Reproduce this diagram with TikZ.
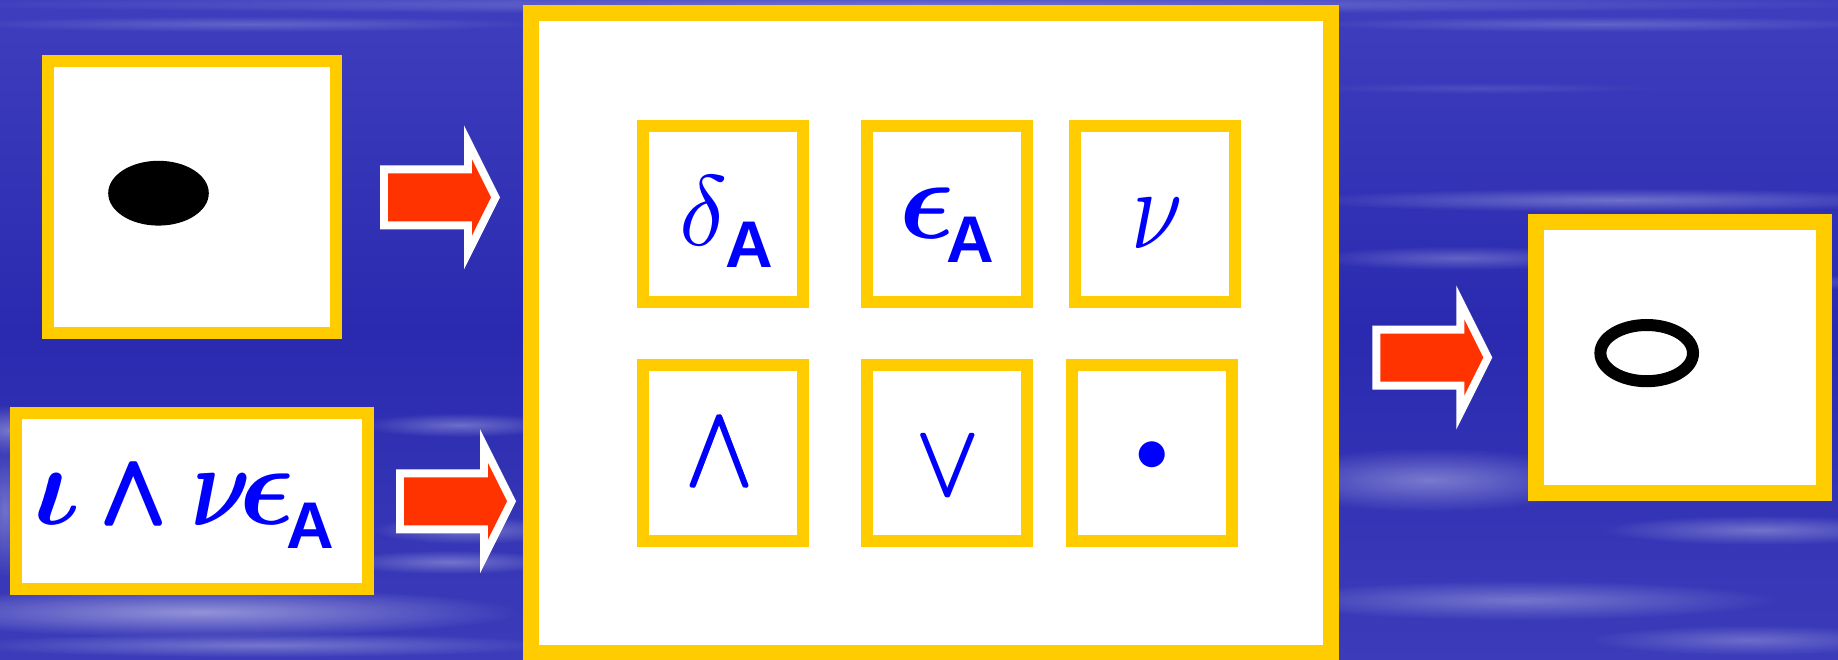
\documentclass[tikz,border=0pt]{standalone}
\usepackage{amsmath}
\usepackage{fontspec}
\newfontfamily\sansA{Liberation Sans}
\usetikzlibrary{shapes.geometric,fadings}
\definecolor{ybord}{HTML}{FFCC00}
\definecolor{arrred}{HTML}{FF3300}
\definecolor{txtblue}{HTML}{0000FF}
\definecolor{bgtop}{HTML}{3E3EBE}
\definecolor{bgmid}{HTML}{2A2AB0}
\definecolor{bgbot}{HTML}{3C3CBA}
\tikzfading[name=fuzzy, inner color=transparent!0, outer color=transparent!100]
\newcommand{\Gk}[2]{\scalebox{#1}{$#2$}}
\newcommand{\GkXY}[3]{\scalebox{#1}[#2]{$#3$}}
\newcommand{\FatSym}[2]{\rlap{$#2$}\kern#1\rlap{$#2$}\kern#1$#2$}
\newcommand{\SubA}{{\sansA\bfseries\fontsize{66}{70}\selectfont A}}
\tikzset{
  box/.style={draw=ybord, fill=white, inner sep=0pt},
  glyph/.style={text=txtblue, inner sep=0pt, anchor=base},
  streak/.style={fill=white, path fading=fuzzy},
  blockarrow/.pic={
    \fill[white] (0,-32) -- (84,-32) -- (84,-72) -- (120,0) -- (84,72) -- (84,32) -- (0,32) -- cycle;
    \fill[arrred] (8,-24) -- (92,-24) -- (92,-38.1) -- (111,0) -- (92,38.1) -- (92,24) -- (8,24) -- cycle;
  }
}
\begin{document}
\begin{tikzpicture}[x=1pt,y=-1pt]
\useasboundingbox (0,0) rectangle (1838,660);
% background
\shade[top color=bgtop, bottom color=bgbot, middle color=bgmid] (0,0) rectangle (1838,660);
\fill[streak, opacity=0.25] (920,4) ellipse [x radius=1000, y radius=10];
\fill[streak, opacity=0.2] (250,24) ellipse [x radius=300, y radius=8];
\fill[streak, opacity=0.2] (1600,24) ellipse [x radius=300, y radius=8];
\fill[streak, opacity=0.1] (1480,88) ellipse [x radius=180, y radius=6];
\fill[streak, opacity=0.3] (1620,200) ellipse [x radius=320, y radius=12];
\fill[streak, opacity=0.25] (1460,258) ellipse [x radius=150, y radius=12];
\fill[streak, opacity=0.2] (1780,282) ellipse [x radius=120, y radius=8];
\fill[streak, opacity=0.35] (1430,480) ellipse [x radius=170, y radius=32];
\fill[streak, opacity=0.3] (1760,530) ellipse [x radius=160, y radius=15];
\fill[streak, opacity=0.3] (1520,600) ellipse [x radius=260, y radius=20];
\fill[streak, opacity=0.25] (1750,640) ellipse [x radius=160, y radius=15];
\fill[streak, opacity=0.3] (460,425) ellipse [x radius=100, y radius=12];
\fill[streak, opacity=0.35] (10,430) ellipse [x radius=50, y radius=25];
\fill[streak, opacity=0.3] (5,510) ellipse [x radius=30, y radius=70];
\fill[streak, opacity=0.3] (470,530) ellipse [x radius=100, y radius=14];
\fill[streak, opacity=0.3] (450,562) ellipse [x radius=110, y radius=12];
\fill[streak, opacity=0.45] (200,612) ellipse [x radius=320, y radius=25];
\fill[streak, opacity=0.3] (260,645) ellipse [x radius=300, y radius=12];

% boxes
\node[box, line width=12pt, minimum width=288pt, minimum height=271.5pt] (in1) at (192,197.25) {};
\node[box, line width=12pt, minimum width=351.3pt, minimum height=175.6pt] (in2) at (191.95,501.2) {};
\node[box, line width=16pt, minimum width=800pt, minimum height=639pt] (core) at (930.6,333) {};
\node[box, line width=12pt, minimum width=160pt, minimum height=176pt] (s11) at (723.2,213.6) {};
\node[box, line width=12pt, minimum width=160pt, minimum height=176pt] (s12) at (947,213.6) {};
\node[box, line width=12pt, minimum width=160pt, minimum height=176pt] (s13) at (1155.2,213.6) {};
\node[box, line width=12pt, minimum width=160pt, minimum height=176pt] (s21) at (723.2,453.3) {};
\node[box, line width=12pt, minimum width=160pt, minimum height=176pt] (s22) at (947,453.3) {};
\node[box, line width=12pt, minimum width=160pt, minimum height=176pt] (s23) at (1152,453.3) {};
\node[box, line width=16pt, minimum width=288pt, minimum height=271.6pt] (out) at (1680.3,357.5) {};

% ellipses
\node[ellipse, fill=black, inner sep=0pt, minimum width=100.6pt, minimum height=64.8pt] (blob) at (158.5,193.2) {};
\node[ellipse, draw=black, line width=12pt, fill=white, inner sep=0pt, minimum width=92.6pt, minimum height=56.2pt] (ring) at (1646.7,353.1) {};

% arrows
\coordinate (a1) at (380,197.4);
\coordinate (a2) at (396,501.25);
\coordinate (a3) at (1372.3,357.5);
\pic at (a1) {blockarrow};
\pic at (a2) {blockarrow};
\pic at (a3) {blockarrow};

% texts in core
\node[glyph] (d1) at (703.3,245.8) {\Gk{10}{\delta}};
\node[glyph] (d1a) at (749,268) {\SubA};
\node[glyph] (e1) at (927.2,238.6) {\Gk{11.4}{\boldsymbol{\epsilon}}};
\node[glyph] (e1a) at (970,262.6) {\SubA};
\node[glyph] (n1) at (1157,248.3) {\GkXY{9.2}{11.6}{\nu}};
\node[glyph] (w1) at (720,485.7) {\scalebox{10.2}[11.8]{\FatSym{.1pt}{\wedge}}};
\node[glyph] (v1) at (948,495) {\scalebox{9.4}[10.4]{\FatSym{.1pt}{\vee}}};
\node[glyph] (b1) at (1152.3,471.7) {\Gk{6.7}{\bullet}};

% text in lower input
\node[glyph] (i2) at (57.4,524.4) {\Gk{11.4}{\boldsymbol{\iota}}};
\node[glyph] (w2) at (134,524.4) {\scalebox{8.4}[10.4]{\FatSym{.25pt}{\boldsymbol{\wedge}}}};
\node[glyph] (n2) at (221,525) {\GkXY{9.2}{11.6}{\boldsymbol{\nu}}};
\node[glyph] (e2) at (267.5,524.8) {\Gk{11.4}{\boldsymbol{\epsilon}}};
\node[glyph] (a2t) at (310.6,548.4) {\SubA};
\end{tikzpicture}
\end{document}
